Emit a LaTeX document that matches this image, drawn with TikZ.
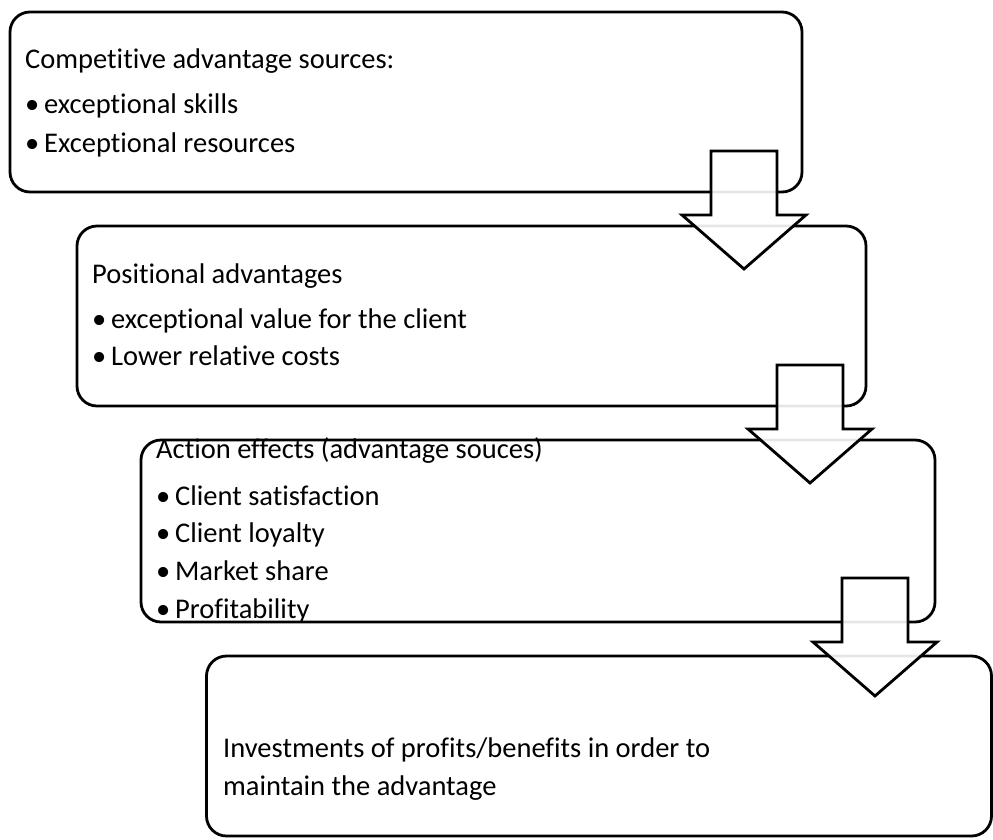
\documentclass[tikz,border=0pt]{standalone}
\usepackage{fontspec}
\setmainfont{Carlito}[Ligatures=CommonOff]
\tikzset{
  box/.style={draw,line width=2.8pt,rounded corners=20pt,minimum width=790,minimum height=180,inner sep=0pt},
  txt/.style={anchor=base west,inner sep=0pt,font=\fontsize{28.5}{34}\selectfont},
  flow/.style={draw,line width=2.8pt,fill=white,fill opacity=0.9,line join=miter}
}
% block arrow pointing down: #1 = centre x, #2 = top y
\newcommand\flowarrow[2]{%
  \draw[flow] (#1-33,#2) -- (#1+33,#2) -- (#1+33,#2+64) -- (#1+62,#2+64)
    -- (#1,#2+118) -- (#1-62,#2+64) -- (#1-33,#2+64) -- cycle;}
\begin{document}
\begin{tikzpicture}[x=1pt,y=-1pt]
  \useasboundingbox (0,0) rectangle (993,839);
  % boxes
  \node[box,minimum width=792] (src) at (406,102) {};
  \node[box,minimum width=789] (pos) at (471.5,316) {};
  \node[box,minimum width=794,minimum height=182] (eff) at (538,531) {};
  \node[box,minimum width=785] (inv) at (599,746) {};
  % texts
  \node[txt] (src1) at (25,68) {Competitive advantage sources:};
  \node[txt] (src2) at (25,113) {•\,exceptional skills};
  \node[txt] (src3) at (25,152) {•\,Exceptional resources};
  \node[txt] (pos1) at (92,283) {Positional advantages};
  \node[txt] (pos2) at (92,328) {•\,exceptional value for the client};
  \node[txt] (pos3) at (92,365) {•\,Lower relative costs};
  \node[txt] (eff1) at (156,458) {Action effects (advantage souces)};
  \node[txt] (eff2) at (156,505) {•\,Client satisfaction};
  \node[txt] (eff3) at (156,542) {•\,Client loyalty};
  \node[txt] (eff4) at (156,580) {•\,Market share};
  \node[txt] (eff5) at (156,618) {•\,Profitability};
  \node[txt] (inv1) at (223,757) {Investments of profits/benefits in order to};
  \node[txt] (inv2) at (223,795) {maintain the advantage};
  % arrows
  \flowarrow{744}{151}
  \flowarrow{810}{365}
  \flowarrow{875}{578}
\end{tikzpicture}
\end{document}
